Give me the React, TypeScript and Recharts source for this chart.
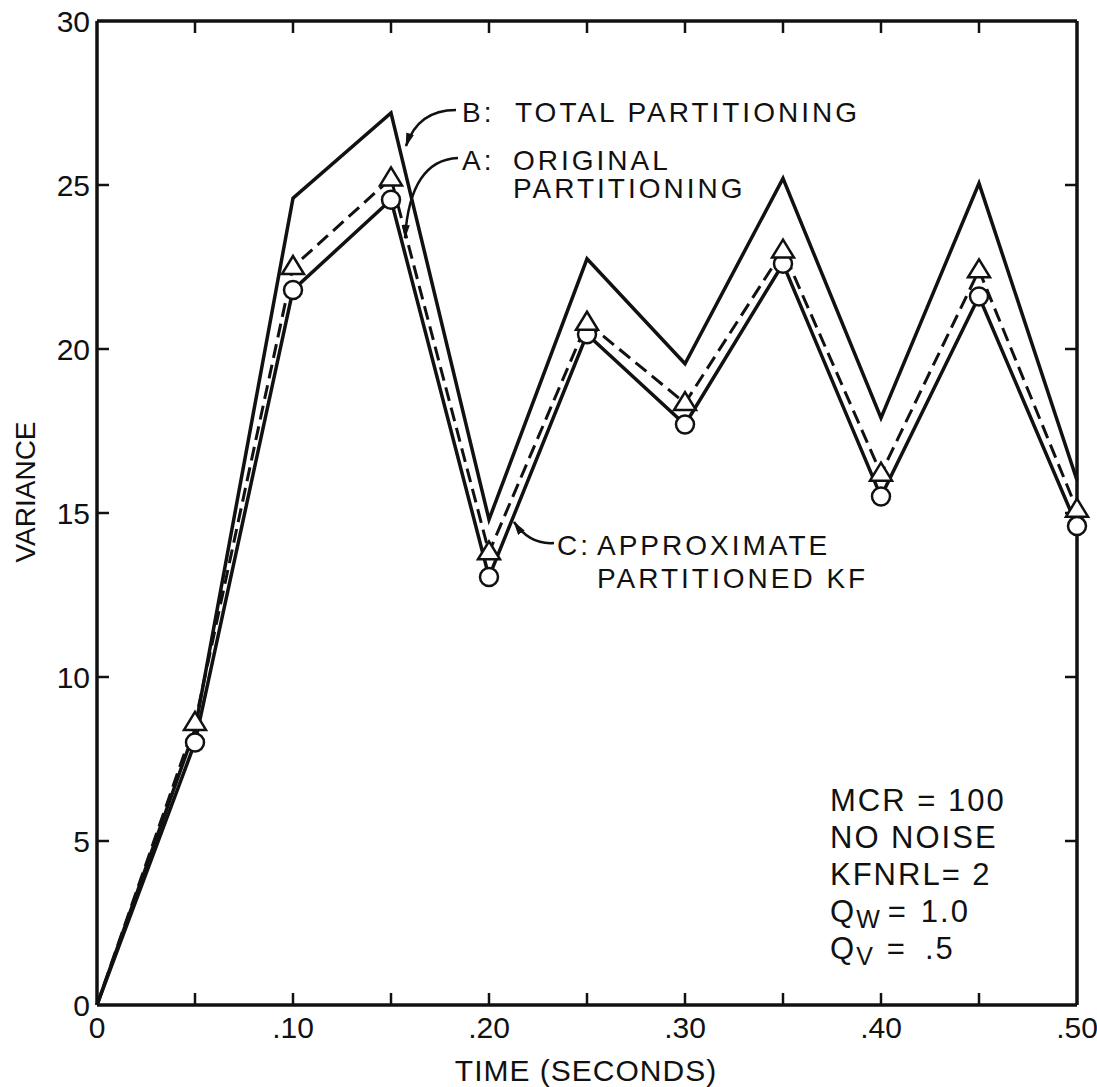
import { LineChart, Line, XAxis, YAxis, ReferenceLine } from 'recharts';

// time in seconds
const TIME = [0, 0.05, 0.1, 0.15, 0.2, 0.25, 0.3, 0.35, 0.4, 0.45, 0.5];
// B: total partitioning (plain solid line)
const TOTAL_PART = [0, 8.4, 24.6, 27.2, 14.8, 22.75, 19.55, 25.2, 17.9, 25.05, 16.0];
// A: original partitioning (dashed, triangles)
const ORIGINAL_PART = [0, 8.6, 22.5, 25.2, 13.8, 20.8, 18.35, 23.0, 16.2, 22.4, 15.1];
// C: approximate partitioned KF (solid, circles)
const APPROX_KF = [0, 8.0, 21.8, 24.55, 13.05, 20.45, 17.7, 22.6, 15.5, 21.6, 14.6];

const X_TICKS = [0, 0.05, 0.1, 0.15, 0.2, 0.25, 0.3, 0.35, 0.4, 0.45, 0.5];
const Y_TICKS = [0, 5, 10, 15, 20, 25, 30];
const INNER_Y_TICKS = [5, 10, 15, 20, 25];
const INNER_X_TICKS = [0.05, 0.1, 0.15, 0.2, 0.25, 0.3, 0.35, 0.4, 0.45];

const W = 1097;
const H = 1087;
const MARGIN = { top: 21, right: 20, bottom: 0, left: 0 };
const Y_AXIS_W = 97;
const X_AXIS_H = 82;
const PLOT_LEFT = MARGIN.left + Y_AXIS_W;
const PLOT_BOTTOM = H - X_AXIS_H;
const PLOT_W = W - MARGIN.right - PLOT_LEFT;
const PLOT_H = PLOT_BOTTOM - MARGIN.top;
const X_MAX = 0.5;
const Y_MAX = 30;

// inward tick length (12px) expressed in data units
const TICK_DX = (12 / PLOT_W) * X_MAX;
const TICK_DY = (12 / PLOT_H) * Y_MAX;

const FONT = '"Liberation Sans", Arial, sans-serif';
const INK = '#111';

const data = TIME.map((t, i) => ({
  t,
  b: TOTAL_PART[i],
  a: ORIGINAL_PART[i],
  c: APPROX_KF[i],
}));

const fmtTime = (v: number) =>
  v === 0 ? '0' : '.' + String(Math.round(v * 100)).padStart(2, '0');

const BottomTick = ({ x, payload }: any) => {
  const v = payload.value;
  if (Math.round(v * 100) % 10 !== 0) return <g />;
  return (
    <text x={x} y={PLOT_BOTTOM + 33} textAnchor="middle" fontSize={30} fontFamily={FONT} fill={INK}>
      {fmtTime(v)}
    </text>
  );
};

const LeftTick = ({ y, payload }: any) => (
  <text x={PLOT_LEFT - 7} y={y + 11} textAnchor="end" fontSize={30} fontFamily={FONT} fill={INK}>
    {payload.value}
  </text>
);

const Ring = (props: any) => {
  const { cx, cy, index } = props;
  if (index === 0 || cx == null) return <g key={`ring-${index}`} />;
  return (
    <circle key={`ring-${index}`} cx={cx} cy={cy} r={9} fill="#fff" stroke={INK} strokeWidth={2.5} />
  );
};

const Tri = (props: any) => {
  const { cx, cy, index } = props;
  if (index === 0 || cx == null) return <g key={`tri-${index}`} />;
  const pts = `${cx},${cy - 11} ${cx - 11},${cy + 7} ${cx + 11},${cy + 7}`;
  return (
    <polygon key={`tri-${index}`} points={pts} fill="#fff" stroke={INK} strokeWidth={2.5} />
  );
};

const axisLine = { stroke: INK, strokeWidth: 3.5 };
const txt = { fontFamily: FONT, fill: INK };

const Notes = () => (
  <svg width={W} height={H} style={{ position: 'absolute', left: 0, top: 0, pointerEvents: 'none' }}>
    <defs>
      <marker id="head" viewBox="0 0 14 8" refX="13" refY="4" markerWidth="14" markerHeight="8"
        markerUnits="userSpaceOnUse" orient="auto">
        <path d="M0,0 L14,4 L0,8 z" fill={INK} />
      </marker>
    </defs>

    {/* curve labels */}
    <g {...txt} fontSize={28} letterSpacing={3}>
      <text x={462} y={122}>B:</text>
      <text x={515} y={122}>TOTAL PARTITIONING</text>
      <text x={462} y={170}>A:</text>
      <text x={513} y={170}>ORIGINAL</text>
      <text x={513} y={198}>PARTITIONING</text>
      <text x={557} y={555}>C:</text>
      <text x={597} y={555}>APPROXIMATE</text>
      <text x={597} y={588}>PARTITIONED KF</text>
    </g>
    <g fill="none" stroke={INK} strokeWidth={2.5}>
      <path d="M456 110 Q418 110 406 146" markerEnd="url(#head)" />
      <path d="M458 158 Q410 160 405 238" markerEnd="url(#head)" />
      <path d="M554 543 Q530 545 514 522" markerEnd="url(#head)" />
    </g>

    {/* run parameters */}
    <g {...txt} fontSize={31} letterSpacing={2}>
      <text x={830} y={811}>MCR = 100</text>
      <text x={830} y={848}>NO NOISE</text>
      <text x={830} y={885}>KFNRL= 2</text>
      <text x={830} y={922}>
        Q<tspan fontSize={25} dy={6}>W</tspan>
        <tspan dy={-6} dx={6}>=</tspan>
        <tspan dx={13}>1.0</tspan>
      </text>
      <text x={830} y={959}>
        Q<tspan fontSize={25} dy={6}>V</tspan>
        <tspan dy={-6} dx={12}>=</tspan>
        <tspan dx={18}>.5</tspan>
      </text>
    </g>

    {/* axis titles */}
    <text {...txt} x={586} y={1081} fontSize={30} textAnchor="middle" letterSpacing={1}>
      TIME (SECONDS)
    </text>
    <text {...txt} x={35} y={492} fontSize={28} textAnchor="middle" transform="rotate(-90 35 492)">
      VARIANCE
    </text>
  </svg>
);

const tickSeg = { stroke: INK, strokeWidth: 2.5 };

export default function App() {
  return (
    <div style={{ position: 'absolute', left: 0, top: 0, width: W, height: H, background: '#fff' }}>
      <LineChart width={W} height={H} data={data} margin={MARGIN}>
        <XAxis
          dataKey="t"
          type="number"
          domain={[0, X_MAX]}
          ticks={X_TICKS}
          height={X_AXIS_H}
          axisLine={axisLine}
          tickLine={false}
          tick={<BottomTick />}
          interval={0}
        />
        <YAxis
          type="number"
          domain={[0, Y_MAX]}
          ticks={Y_TICKS}
          width={Y_AXIS_W}
          axisLine={axisLine}
          tickLine={false}
          tick={<LeftTick />}
          interval={0}
        />

        {/* closing top and right sides of the frame */}
        <ReferenceLine y={Y_MAX} stroke={INK} strokeWidth={3.5} />
        <ReferenceLine x={X_MAX} stroke={INK} strokeWidth={3.5} />

        {/* inward tick marks on all four sides */}
        {INNER_X_TICKS.map((x) => (
          <ReferenceLine key={`bt-${x}`} segment={[{ x, y: 0 }, { x, y: TICK_DY }]} {...tickSeg} />
        ))}
        {INNER_X_TICKS.map((x) => (
          <ReferenceLine key={`tt-${x}`} segment={[{ x, y: Y_MAX }, { x, y: Y_MAX - TICK_DY }]} {...tickSeg} />
        ))}
        {INNER_Y_TICKS.map((y) => (
          <ReferenceLine key={`lt-${y}`} segment={[{ x: 0, y }, { x: TICK_DX, y }]} {...tickSeg} />
        ))}
        {INNER_Y_TICKS.map((y) => (
          <ReferenceLine key={`rt-${y}`} segment={[{ x: X_MAX, y }, { x: X_MAX - TICK_DX, y }]} {...tickSeg} />
        ))}

        <Line dataKey="b" stroke={INK} strokeWidth={3.5} dot={false} isAnimationActive={false} />
        <Line dataKey="c" stroke={INK} strokeWidth={3.5} dot={Ring} isAnimationActive={false} />
        <Line
          dataKey="a"
          stroke={INK}
          strokeWidth={3}
          strokeDasharray="14 7"
          dot={Tri}
          isAnimationActive={false}
        />
      </LineChart>
      <Notes />
    </div>
  );
}
